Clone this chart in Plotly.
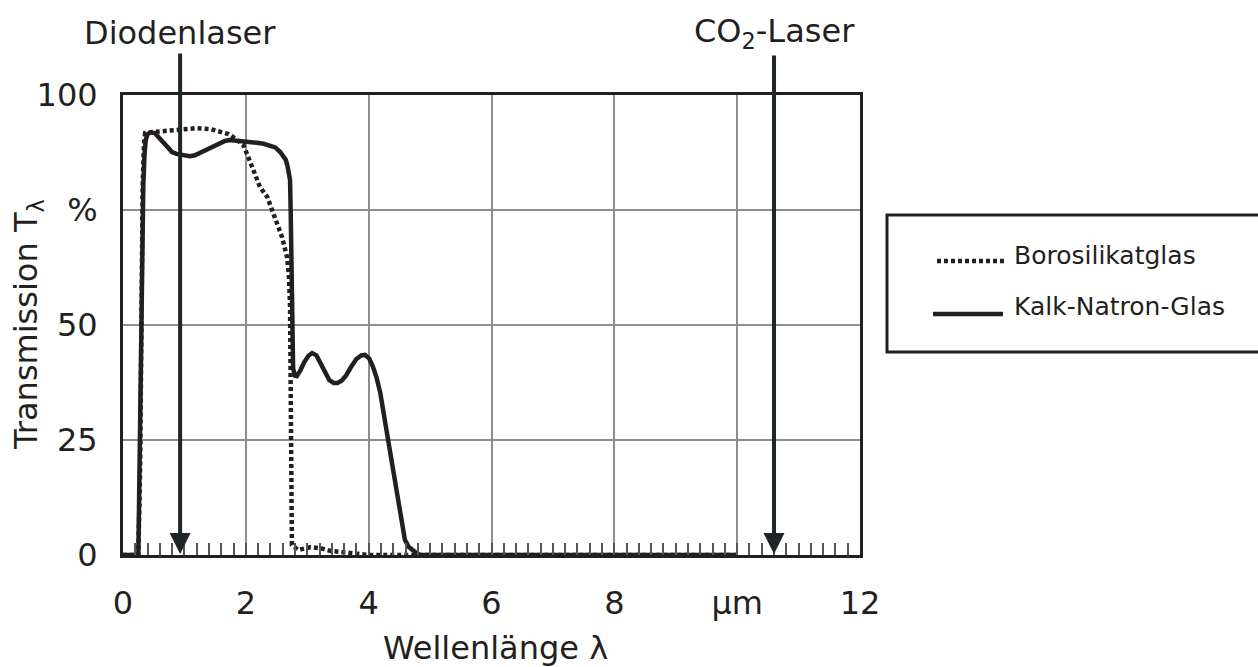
import plotly.graph_objects as go

# ---- data ----
boro_x = [0.0, 0.25, 0.28, 0.30, 0.32, 0.34, 0.36, 0.45, 0.55, 0.77, 0.98, 1.20, 1.42, 1.63, 1.72,
          1.79, 1.88, 1.96, 2.04, 2.12, 2.23, 2.35, 2.43, 2.51, 2.59, 2.67, 2.70, 2.72, 2.73, 2.74,
          2.75, 2.85, 3.05, 3.21, 3.37, 3.58, 3.80, 4.00, 10.0]
boro_y = [0.0, 0.0, 20, 55, 80, 89, 91.7, 91.9, 92.0, 92.2, 92.6, 92.8, 92.6, 92.0, 91.5,
          90.9, 90.1, 89.1, 86.5, 83.7, 80.0, 77.8, 75.0, 72.2, 69.1, 64.8, 61.0, 54.0, 30.0, 8.0,
          2.2, 1.1, 1.7, 1.5, 0.9, 0.6, 0.4, 0.0, 0.0]

kalk_x = [0.0, 0.25, 0.26, 0.28, 0.31, 0.33, 0.35, 0.37, 0.40, 0.46, 0.52, 0.58, 0.65, 0.72, 0.80,
          0.87, 0.93, 1.01, 1.09, 1.17, 1.25, 1.33, 1.42, 1.50, 1.58, 1.66, 1.74, 1.85, 1.96, 2.07,
          2.18, 2.29, 2.39, 2.48, 2.56, 2.61, 2.65, 2.68, 2.70, 2.72, 2.73, 2.74, 2.76, 2.77, 2.80,
          2.83, 2.89, 2.95, 3.02, 3.08, 3.15, 3.22, 3.29, 3.36, 3.43, 3.49, 3.56, 3.63, 3.71, 3.80,
          3.88, 3.94, 4.01, 4.07, 4.13, 4.19, 4.27, 4.35, 4.43, 4.51, 4.59, 4.65, 4.71, 4.78, 4.84,
          10.0]
kalk_y = [0.0, 0.0, 10, 35, 57.6, 80, 87, 90.2, 91.5, 91.9, 91.7, 90.8, 89.6, 88.5, 87.6,
          87.2, 87.0, 86.8, 86.7, 86.9, 87.4, 87.9, 88.5, 89.1, 89.6, 90.0, 90.2, 90.1, 89.8, 89.7,
          89.6, 89.4, 89.1, 88.6, 87.6, 86.8, 85.9, 84.5, 83.3, 81.5, 75.0, 62.0, 47.0, 40.5, 39.0,
          38.9, 40.2, 41.9, 43.3, 43.9, 43.4, 41.6, 39.5, 38.0, 37.4, 37.4, 37.9, 39.0, 40.8, 42.6,
          43.4, 43.5, 42.7, 40.9, 38.5, 35.2, 28.7, 22.2, 14.8, 8.3, 3.3, 1.8, 1.0, 0.4, 0.0,
          0.0]

x_tickvals = [0, 2, 4, 6, 8, 10, 12]
x_ticktext = ["0", "2", "4", "6", "8", "µm", "12"]
y_tickvals = [0, 25, 50, 75, 100]
y_ticktext = ["0", "25", "50", "%", "100"]

series_names = ["Borosilikatglas", "Kalk-Natron-Glas"]
laser_names = ["Diodenlaser", "CO<sub>2</sub>-Laser"]
laser_wavelengths = [0.93, 10.6]

INK = "#231f20"
ARROW = "#1f2629"
GRID = "#8e8e8e"
FONT = "DejaVu Sans"

W, H = 1258, 667
PLOT_L, PLOT_R, PLOT_T, PLOT_B = 123, 860, 95, 555
L, R, T, B = PLOT_L, W - PLOT_R, PLOT_T, H - PLOT_B
PW, PH = PLOT_R - PLOT_L, PLOT_B - PLOT_T


def px_to_paper_x(px):
    return (px - PLOT_L) / PW


def px_to_paper_y(py):
    return (PLOT_B - py) / PH


fig = go.Figure()
fig.add_trace(go.Scatter(x=boro_x, y=boro_y, mode="lines", name=series_names[0],
                         line=dict(color=INK, width=4.5, dash="4px,3px"), showlegend=False))
fig.add_trace(go.Scatter(x=kalk_x, y=kalk_y, mode="lines", name=series_names[1],
                         line=dict(color=INK, width=4.5), showlegend=False))

annotations = []
# laser labels with arrows pointing down to the axis
for name, wl in zip(laser_names, laser_wavelengths):
    annotations.append(dict(x=wl, y=0, xref="x", yref="y", ax=0, ay=-(555 - 33),
                            text=name, showarrow=True, arrowhead=2, arrowsize=1.05, arrowwidth=4,
                            arrowcolor=ARROW, standoff=1,
                            font=dict(family=FONT, size=32, color=INK)))

# axis titles
annotations.append(dict(x=px_to_paper_x(28), y=0.5, xref="paper", yref="paper",
                        text="Transmission T<sub>λ</sub>", textangle=-90, showarrow=False,
                        xanchor="center", yanchor="middle",
                        font=dict(family=FONT, size=32, color=INK)))
annotations.append(dict(x=px_to_paper_x(495), y=px_to_paper_y(648), xref="paper", yref="paper",
                        text="Wellenlänge λ", showarrow=False, xanchor="center", yanchor="middle",
                        font=dict(family=FONT, size=32, color=INK)))

# legend (drawn box)
shapes = [
    dict(type="rect", xref="paper", yref="paper",
         x0=px_to_paper_x(887), x1=px_to_paper_x(1275), y0=px_to_paper_y(352), y1=px_to_paper_y(215),
         line=dict(color=INK, width=3), fillcolor="white"),
    dict(type="line", xref="paper", yref="paper",
         x0=px_to_paper_x(937), x1=px_to_paper_x(1005), y0=px_to_paper_y(261), y1=px_to_paper_y(261),
         line=dict(color=INK, width=4.5, dash="4px,3px")),
    dict(type="line", xref="paper", yref="paper",
         x0=px_to_paper_x(933), x1=px_to_paper_x(1003), y0=px_to_paper_y(314), y1=px_to_paper_y(314),
         line=dict(color=INK, width=4.5)),
]
for name, cy in zip(series_names, [255, 306]):
    annotations.append(dict(x=px_to_paper_x(1012), y=px_to_paper_y(cy), xref="paper", yref="paper",
                            text=name, showarrow=False, xanchor="left", yanchor="middle",
                            font=dict(family=FONT, size=25, color=INK)))

fig.update_layout(
    width=W, height=H,
    margin=dict(l=L, r=R, t=T, b=B, autoexpand=False),
    paper_bgcolor="white", plot_bgcolor="white",
    font=dict(family=FONT, color=INK),
    annotations=annotations, shapes=shapes,
    showlegend=False,
)
fig.update_xaxes(range=[0, 12], tickvals=x_tickvals, ticktext=x_ticktext,
                 showline=True, linecolor=INK, linewidth=3, mirror=True,
                 showgrid=True, gridcolor=GRID, gridwidth=1.5, zeroline=False,
                 ticks="inside", ticklen=12, tickcolor="#555555", tickwidth=1.5,
                 minor=dict(dtick=0.2, tick0=0, ticks="inside", ticklen=12, tickcolor="#555555",
                            tickwidth=1.5, showgrid=False),
                 tickfont=dict(family=FONT, size=32, color=INK), ticklabelstandoff=18)
fig.update_yaxes(range=[0, 100], tickvals=y_tickvals, ticktext=y_ticktext,
                 showline=True, linecolor=INK, linewidth=3, mirror=True,
                 showgrid=True, gridcolor=GRID, gridwidth=1.5, zeroline=False,
                 ticks="", tickfont=dict(family=FONT, size=32, color=INK), ticklabelstandoff=16)

# remove the default 8px page margin so the figure fills the window exactly
fig.write_html("out.html", config={"displayModeBar": False},
               post_script="document.body.style.margin='0';document.body.style.overflow='hidden';")
